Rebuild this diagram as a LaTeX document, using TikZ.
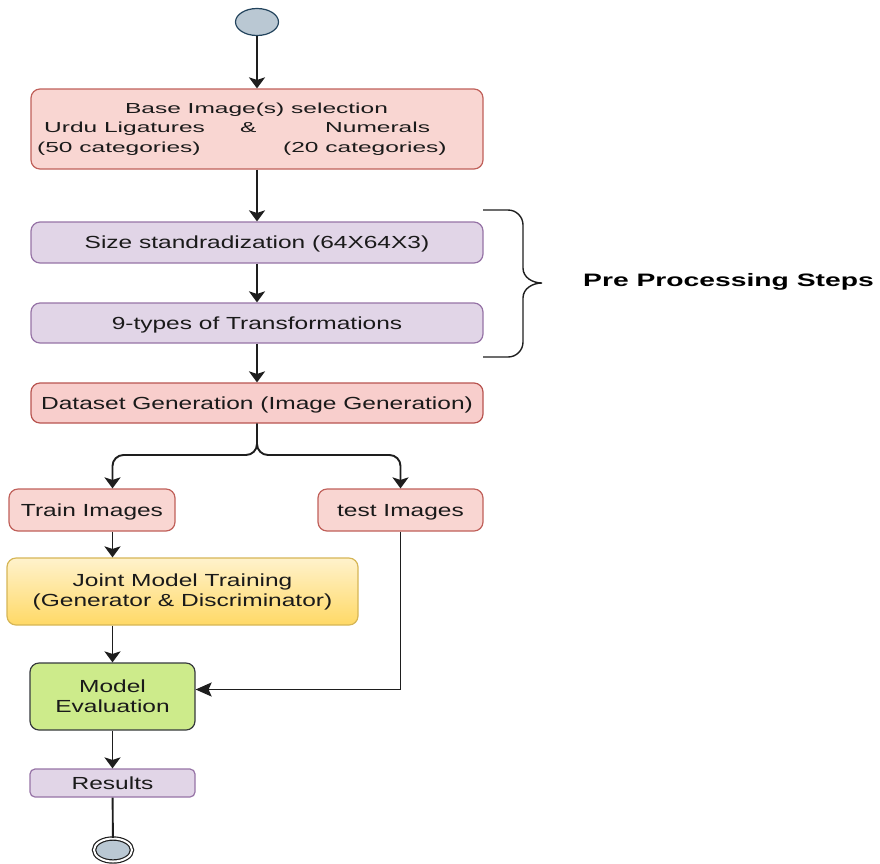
\documentclass[tikz,border=0pt]{standalone}
\usepackage{fontspec}
\setmainfont{Liberation Sans}
\newfontfamily\fmain[FakeStretch=1.40]{Liberation Sans}
\newfontfamily\fbase[FakeStretch=1.69]{Liberation Sans}
\newfontfamily\fpre[FakeStretch=1.57]{Liberation Sans}
\usetikzlibrary{shapes.geometric,arrows.meta}
\definecolor{txt}{HTML}{1A1A1A}
\definecolor{ln}{HTML}{1E1E1E}
\definecolor{redfill}{HTML}{F9D6D2}
\definecolor{redline}{HTML}{C0605A}
\definecolor{dsfill}{HTML}{F8CECC}
\definecolor{dsline}{HTML}{B85450}
\definecolor{purfill}{HTML}{E1D5E7}
\definecolor{purline}{HTML}{9673A6}
\definecolor{ytop}{HTML}{FFF2CC}
\definecolor{ybot}{HTML}{FFD966}
\definecolor{yline}{HTML}{D6B656}
\definecolor{gfill}{HTML}{CDEB8B}
\definecolor{gline}{HTML}{36393D}
\definecolor{cfill}{HTML}{BAC8D3}
\definecolor{cline}{HTML}{23445D}
\begin{document}
\begin{tikzpicture}[x=1pt,y=1pt,
  box/.style={rectangle, rounded corners=9pt, line width=1.2pt, inner sep=0pt,
    text=txt, font=\fmain\fontsize{17.5}{20}\selectfont, align=center},
  one/.style={text height=12.5pt, text depth=0pt},
  redbox/.style={box, fill=redfill, draw=redline},
  dsbox/.style={box, fill=dsfill, draw=dsline},
  purbox/.style={box, fill=purfill, draw=purline},
  ybox/.style={box, top color=ytop, bottom color=ybot, draw=yline},
  gbox/.style={box, fill=gfill, draw=gline},
  conn/.style={line width=1.9pt, draw=ln, -{Stealth[width=16pt,length=11pt,inset=2.5pt]}},
  connl/.style={line width=1.9pt, draw=ln, -{Stealth[width=14pt,length=16pt,inset=3pt]}},
  plain/.style={line width=1.9pt, draw=ln},
  btxt/.style={inner sep=0pt, text=txt, font=\fbase\fontsize{14.5}{19.5}\selectfont},
]
\useasboundingbox (0,0) rectangle (880,-863);

% start
\node[ellipse, draw=cline, fill=cfill, line width=1.2pt, minimum width=43pt, minimum height=27pt, inner sep=0pt] (start) at (257,-22) {};

% base selection box
\node[redbox, minimum width=452pt, minimum height=80pt] (base) at (257,-129) {};
\node[btxt, anchor=mid] (b1) at (256.5,-111) {Base Image(s) selection};
\node[btxt, anchor=mid west] (b2) at (44,-130) {Urdu Ligatures};
\node[btxt, anchor=mid west] (b3) at (240,-130) {\&};
\node[btxt, anchor=mid west] (b4) at (325,-130) {Numerals};
\node[btxt, anchor=mid west] (b5) at (37,-150) {(50 categories)};
\node[btxt, anchor=mid west] (b6) at (283,-150) {(20 categories)};

% preprocessing
\node[purbox, one, minimum width=452pt, minimum height=41pt] (size) at (257,-242.5) {Size standradization (64X64X3)};
\node[purbox, one, minimum width=452pt, minimum height=40pt] (trans) at (257,-323) {9-types of Transformations};
\node[dsbox, one, minimum width=452pt, minimum height=40pt] (ds) at (257,-403) {Dataset Generation (Image Generation)};

% brace
\draw[line width=1.4pt, draw=ln] (483,-210) -- (508,-210) to[out=0,in=90] (523,-225) -- (523,-268)
  to[out=-90,in=180] (542,-283) to[out=180,in=90] (523,-298) -- (523,-342)
  to[out=-90,in=0] (508,-357) -- (483,-357);
\node[inner sep=0pt, anchor=west, text=black, font=\fpre\bfseries\fontsize{18}{20}\selectfont, text height=13pt, text depth=0pt] (pre) at (583,-280) {Pre Processing Steps};

% train / test
\node[redbox, one, minimum width=166pt, minimum height=42pt] (train) at (92,-510) {Train Images};
\node[redbox, one, minimum width=165pt, minimum height=42pt] (test) at (400.5,-510) {test Images};

\node[ybox, minimum width=351pt, minimum height=67pt] (joint) at (182.5,-591.5) {Joint Model Training\\(Generator \& Discriminator)};
\node[gbox, minimum width=165pt, minimum height=67pt] (eval) at (112.5,-696.5) {Model\\Evaluation};
\node[purbox, one, rounded corners=5pt, minimum width=165pt, minimum height=28pt] (res) at (112.5,-783) {Results};

% end
\node[ellipse, draw=ln, fill=cfill, double=white, double distance=2pt, line width=1.2pt, minimum width=38pt, minimum height=23pt, inner sep=0pt] (end) at (113,-850) {};

% connectors
\coordinate (sp) at (257,-455);
\draw[conn] (start) -- (base);
\draw[conn] (base) -- (size);
\draw[conn] (size) -- (trans);
\draw[conn] (trans) -- (ds);
\draw[conn, rounded corners=11pt] (ds.south) -- (sp) -| (eval.center |- train.north);
\draw[conn, rounded corners=11pt] (ds.south) -- (sp) -| (test.north);
\draw[conn] (eval.center |- train.south) -- (eval.center |- joint.north);
\draw[conn] (eval.center |- joint.south) -- (eval.north);
\draw[connl] (test.south) |- ([yshift=7pt]eval.east);
\draw[conn] (eval) -- (res);
\draw[plain] (res) -- (end);
\end{tikzpicture}
\end{document}
